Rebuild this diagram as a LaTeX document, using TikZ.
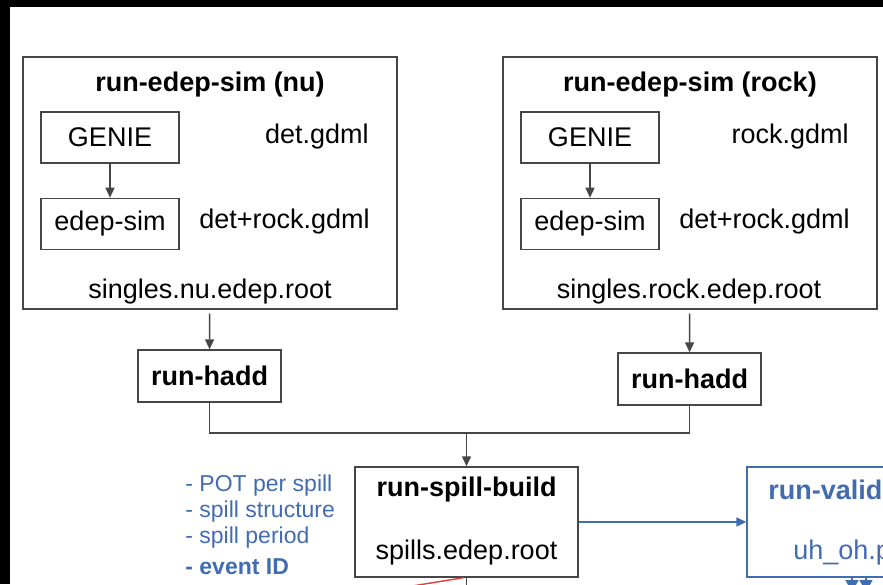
\documentclass[tikz,border=0pt]{standalone}
\usepackage{fontspec}
\setmainfont{Liberation Sans}
\usetikzlibrary{arrows.meta, positioning, calc}
\definecolor{linegray}{RGB}{70,70,70}
\definecolor{validblue}{RGB}{66,108,178}
\definecolor{eventred}{RGB}{222,64,64}

\begin{document}
\begin{tikzpicture}[
    x=0.5pt, y=-0.5pt,
    stage/.style={rectangle, draw=linegray, line width=0.7pt, minimum width=187pt, minimum height=126pt},
    tool/.style={rectangle, draw=linegray, line width=0.7pt, minimum width=69pt, minimum height=25.5pt, inner sep=0pt, font=\fontsize{13.5}{16}\selectfont},
    job/.style={rectangle, draw=linegray, line width=0.7pt, minimum width=71.5pt, minimum height=26pt, inner sep=0pt, font=\fontsize{13.5}{16}\selectfont\bfseries},
    title/.style={inner sep=1pt, font=\fontsize{13.5}{16}\selectfont\bfseries},
    label/.style={inner sep=1pt, font=\fontsize{13.5}{16}\selectfont},
    notes/.style={inner sep=0pt, align=left, text=validblue, font=\fontsize{11.5}{13}\selectfont},
    link/.style={draw=linegray, line width=0.7pt},
    arr/.style={link, -{Triangle[length=5pt, width=4.5pt]}},
    bluearr/.style={draw=validblue, line width=0.7pt, -{Triangle[length=5pt, width=4.5pt]}}
]
\useasboundingbox (0,0) rectangle (883,584);
\clip (0,0) rectangle (883,584);
\fill[white] (0,0) rectangle (883,584);
\fill[black] (0,0) rectangle (883,7);
\fill[black] (0,0) rectangle (10,584);

% Simulation stages
\node[stage] (nubox) at (210,183) {};
\node[stage] (rockbox) at (690,183) {};
\node[title] (nutitle) at (210,85) {run-edep-sim (nu)};
\node[title] (rocktitle) at (690,85) {run-edep-sim (rock)};

% Generator and detector sim
\node[tool] (nugenie) at (110,137.5) {GENIE};
\node[tool, below=17pt of nugenie] (nuedep) {edep-sim};
\node[tool] (rockgenie) at (590,137.5) {GENIE};
\node[tool, below=17pt of rockgenie] (rockedep) {edep-sim};

% Geometry files
\node[label, anchor=east] (nudet) at (371,137) {det.gdml};
\node[label, anchor=east] (nugeom) at (372,222) {det+rock.gdml};
\node[label, anchor=east] (rockdet) at (851,137) {rock.gdml};
\node[label, anchor=east] (rockgeom) at (852,222) {det+rock.gdml};

% Output files
\node[label] (nuout) at (210,292) {singles.nu.edep.root};
\node[label] (rockout) at (689,292) {singles.rock.edep.root};

% Merging
\node[job] (nuhadd) at (209.5,376) {run-hadd};
\node[job] (rockhadd) at (689.5,379) {run-hadd};
\coordinate (merge) at (466.5,433);

% Spill building
\node[job, minimum width=111.5pt, minimum height=55pt] (spill) at (466.5,522) {};
\node[title] (spilltitle) at (466.5,490) {run-spill-build};
\node[label] (spillout) at (466.5,553) {spills.edep.root};
\node[notes, anchor=north west] (notes) at (185,474) {- POT per spill\\- spill structure\\- spill period\\[2.5pt]\textbf{- event ID}};

% Validation
\node[rectangle, draw=validblue, line width=0.7pt, minimum width=100pt, minimum height=55pt] (valid) at (847,522) {};
\node[title, text=validblue, anchor=west] (validtitle) at (766,490) {run-valid};
\node[label, text=validblue, anchor=west] (validout) at (791,553) {uh\_oh.p};

% Arrows
\draw[arr] (nugenie) -- (nuedep);
\draw[arr] (rockgenie) -- (rockedep);
\draw[arr, shorten <=2pt] (nubox) -- (nuhadd);
\draw[arr, shorten <=2pt] (rockbox) -- (rockhadd);
\draw[link] (nuhadd) |- (merge);
\draw[link] (rockhadd) |- (merge);
\draw[arr] (merge) -- (spill);
\draw[bluearr] (spill) -- (valid);

% Leaving the frame
\coordinate (spilldown) at (466.5,600);
\coordinate (redend) at (375,592);
\coordinate (plota) at (852,592);
\coordinate (plotb) at (866,592);
\draw[link] (spill) -- (spilldown);
\draw[eventred, line width=0.7pt] ($(spill.south)+(-3,0)$) -- (redend);
\draw[bluearr, -{Triangle[length=6pt, width=6.5pt]}] (valid.south -| plota) -- (plota);
\draw[bluearr, -{Triangle[length=6pt, width=6.5pt]}] (valid.south -| plotb) -- (plotb);

\end{tikzpicture}
\end{document}
